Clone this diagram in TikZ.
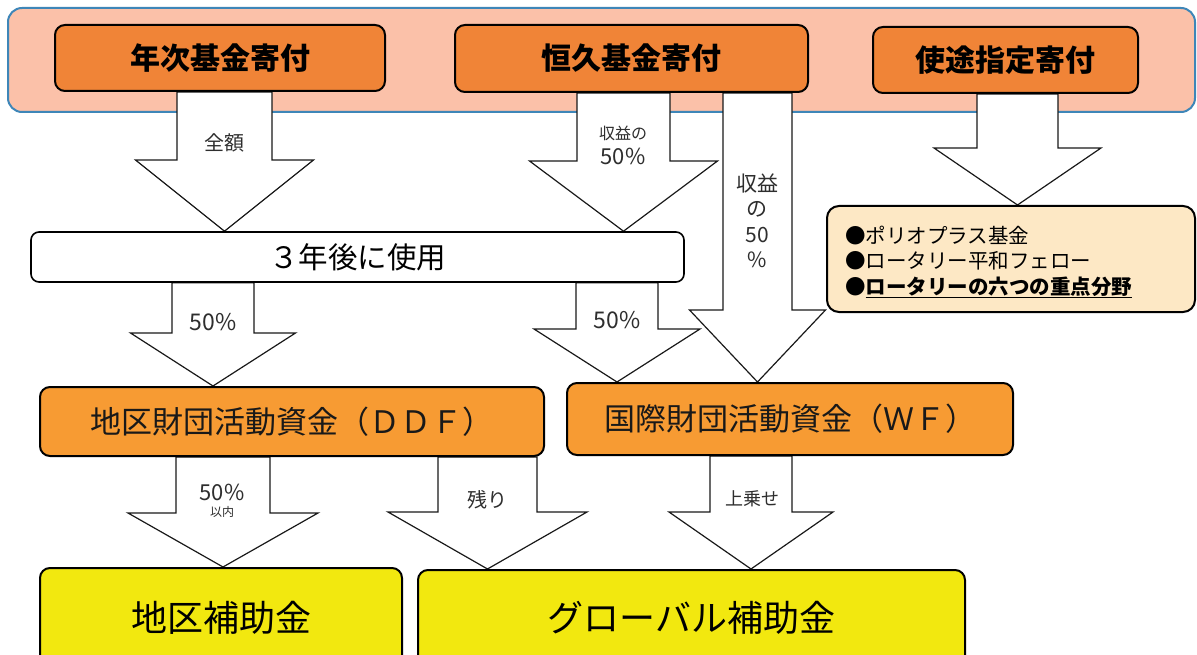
\documentclass[tikz,border=0pt]{standalone}
\usepackage{fontspec}
\setmainfont{Noto Sans CJK JP}
\usetikzlibrary{calc}
\definecolor{bandfill}{HTML}{FBC1A9}
\definecolor{bandline}{HTML}{3E86B8}
\definecolor{topfill}{HTML}{F08437}
\definecolor{midfill}{HTML}{F79B33}
\definecolor{grantfill}{HTML}{F2E80F}
\definecolor{notefill}{HTML}{FDE8C5}
\definecolor{labelgray}{HTML}{2E2E2E}
\pgfdeclarelayer{bandlayer}
\pgfdeclarelayer{arrowlayer}
\pgfsetlayers{bandlayer,arrowlayer,main}
\tikzset{
  box/.style={draw=black, line width=2pt, rounded corners=10pt, inner sep=0pt, anchor=center},
  topbox/.style={box, fill=topfill, font=\bfseries\fontsize{30}{32}\selectfont},
  midbox/.style={box, fill=midfill, font=\fontsize{31}{33}\selectfont, text=black!90},
  laterbox/.style={box, fill=white, line width=1.6pt, rounded corners=8pt, font=\fontsize{29.5}{32}\selectfont},
  grantbox/.style={box, fill=grantfill, font=\fontsize{36}{40}\selectfont},
  notebox/.style={box, fill=notefill, rounded corners=12pt},
  notetext/.style={inner sep=0pt, anchor=west, align=left, font=\fontsize{20.5}{25.5}\selectfont},
  bandbox/.style={draw=bandline, fill=bandfill, line width=2pt, rounded corners=14pt, inner sep=0pt},
  blockarr/.style={draw=black!90, fill=white, line width=1.2pt, line join=miter},
  lbl/.style={inner sep=0pt, text=labelgray, anchor=center},
}
% #1 from node, #2 to node, #3 centre x, #4 shaft half width, #5 head half width, #6 head y
\newcommand{\mkarrow}[6]{%
  \draw[blockarr] let \p1=(#1.south), \p2=(#2.north) in
    ({(#3-#4)*1pt},\y1) -- ({(#3-#4)*1pt},{-(#6)*1pt}) -- ({(#3-#5)*1pt},{-(#6)*1pt})
    -- ({#3*1pt},\y2) -- ({(#3+#5)*1pt},{-(#6)*1pt}) -- ({(#3+#4)*1pt},{-(#6)*1pt})
    -- ({(#3+#4)*1pt},\y1) -- cycle;}
\begin{document}
\begin{tikzpicture}[x=1pt,y=-1pt]
\useasboundingbox (0,0) rectangle (1197,655);
\clip (0,0) rectangle (1197,655);

\begin{pgfonlayer}{bandlayer}
  \node[bandbox, minimum width=1187pt, minimum height=104pt] (band) at (601.5,60) {};
\end{pgfonlayer}

% boxes
\node[topbox, minimum width=330pt, minimum height=66pt] (annual) at (220,58) {年次基金寄付};
\node[topbox, minimum width=353pt, minimum height=67pt] (endow) at (631.5,58.5) {恒久基金寄付};
\node[topbox, minimum width=265pt, minimum height=66pt] (directed) at (1005.5,60) {使途指定寄付};

\node[laterbox, minimum width=653pt, minimum height=50pt] (later) at (357.5,257) {３年後に使用};

\node[notebox, minimum width=368pt, minimum height=106pt] (notes) at (1011,259) {};
\node[notetext] (notelist) at (845,262)
  {●ポリオプラス基金\\●ロータリー平和フェロー\\\textbf{●\underline{ロータリーの六つの重点分野}}};

\node[midbox, minimum width=504pt, minimum height=69pt] (ddf) at (292,421.5) {地区財団活動資金（ＤＤＦ）};
\node[midbox, minimum width=446pt, minimum height=72pt] (wf) at (790,419) {国際財団活動資金（ＷＦ）};

\node[grantbox, minimum width=362pt, minimum height=100pt] (dg) at (221,618) {地区補助金};
\node[grantbox, minimum width=547pt, minimum height=96pt] (gg) at (691.5,618) {グローバル補助金};

% block arrows
\begin{pgfonlayer}{arrowlayer}
  \mkarrow{annual}{later}{224.5}{47.5}{89}{160}
  \mkarrow{endow}{later}{623.5}{46.5}{94}{161}
  \mkarrow{endow}{wf}{757.5}{34.5}{68}{310}
  \mkarrow{directed}{notes}{1017.5}{40.5}{83.5}{148}
  \mkarrow{later}{ddf}{213}{41}{82.5}{333}
  \mkarrow{later}{wf}{617}{41}{83}{329}
  \mkarrow{ddf}{dg}{223}{47}{95}{513}
  \mkarrow{ddf}{gg}{487.5}{49.5}{99.5}{512}
  \mkarrow{wf}{gg}{751}{41}{82}{512}
\end{pgfonlayer}

% arrow labels
\node[lbl, font=\fontsize{20}{22}\selectfont] (l1) at (224,143) {全額};
\node[lbl, font=\fontsize{16}{18}\selectfont] (l2a) at (623,133) {収益の};
\node[lbl, font=\fontsize{22}{24}\selectfont] (l2b) at (623,156) {50\%};
\node[lbl, align=center, font=\fontsize{21}{25.5}\selectfont] (l3) at (757,221) {収益\\の\\50\\\%};
\node[lbl, font=\fontsize{23}{25}\selectfont] (l5) at (213,322) {50\%};
\node[lbl, font=\fontsize{23}{25}\selectfont] (l6) at (617,320) {50\%};
\node[lbl, font=\fontsize{22}{24}\selectfont] (l7a) at (222,492) {50\%};
\node[lbl, font=\fontsize{12}{14}\selectfont] (l7b) at (222,512) {以内};
\node[lbl, font=\fontsize{20}{22}\selectfont] (l8) at (487,500) {残り};
\node[lbl, font=\fontsize{18}{20}\selectfont] (l9) at (752,499) {上乗せ};
\end{tikzpicture}
\end{document}
